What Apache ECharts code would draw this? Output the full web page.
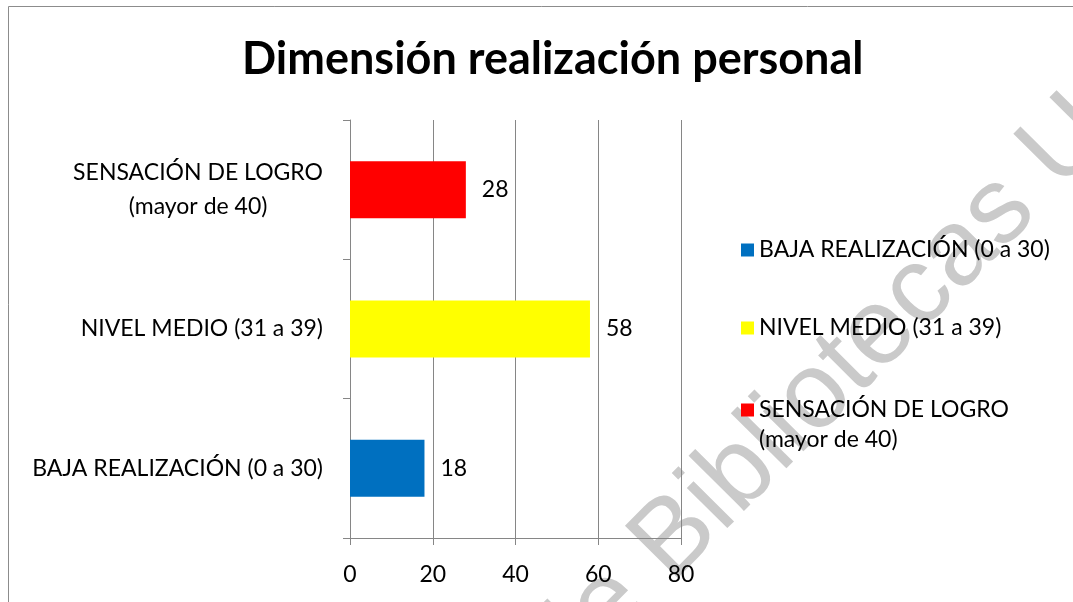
<!DOCTYPE html>
<html>
<head>
<meta charset="utf-8">
<title>Dimensión realización personal</title>
<script src="https://cdn.jsdelivr.net/npm/echarts@6/dist/echarts.min.js"></script>
<style>
  html, body { margin: 0; padding: 0; background: #fff; }
  #chart { width: 1073px; height: 602px; }
</style>
</head>
<body>
<div id="chart"></div>
<script>
// datos del gráfico
var categories = ['BAJA REALIZACIÓN (0 a 30)', 'NIVEL MEDIO (31 a 39)', 'SENSACIÓN DE LOGRO\n(mayor de 40)'];
var values = [18, 58, 28];
var barColors = ['#0070C0', '#FFFF00', '#FF0000'];
var xMin = 0;
var xMax = 80;
var xStep = 20;

var FONT = 'Lato';

var chart = echarts.init(document.getElementById('chart'));

// una serie por categoría (apiladas) para que la leyenda muestre cada nivel
var series = categories.map(function (name, i) {
    return {
        name: name,
        type: 'bar',
        stack: 'total',
        barWidth: 57,
        itemStyle: { color: barColors[i] },
        label: {
            show: true,
            position: 'right',
            distance: 16,
            color: '#000',
            fontFamily: FONT,
            fontSize: 23
        },
        data: categories.map(function (c, j) { return j === i ? values[i] : '-'; })
    };
});

var legendTops = [235, 313, 395];
var legends = categories.map(function (name, i) {
    var twoLines = name.indexOf('\n') >= 0;
    return {
        left: 741,
        top: legendTops[i],
        padding: 0,
        orient: 'vertical',
        itemWidth: 13,
        itemHeight: twoLines ? 60 : 13,
        icon: twoLines
            ? 'path://M0,8.5h13v13h-13zM0,0h0.01v0.01h-0.01zM0,59.99h0.01v0.01h-0.01z'
            : 'rect',
        textStyle: {
            color: '#000',
            fontFamily: FONT,
            fontSize: 23,
            lineHeight: 30
        },
        data: [name]
    };
});

var option = {
    backgroundColor: '#fff',
    animation: false,
    title: {
        text: 'Dimensión realización personal',
        left: 237,
        top: 32,
        textStyle: {
            fontFamily: FONT,
            fontWeight: 'bold',
            fontSize: 45,
            color: '#000'
        }
    },
    legend: legends,
    grid: {
        left: 350,
        right: 392,
        top: 120,
        bottom: 64
    },
    xAxis: {
        type: 'value',
        min: xMin,
        max: xMax,
        interval: xStep,
        axisLine: { show: true, lineStyle: { color: '#868686', width: 1 } },
        axisTick: { show: true, length: 7, lineStyle: { color: '#868686' } },
        splitLine: { show: true, lineStyle: { color: '#868686', width: 1 } },
        axisLabel: {
            color: '#000',
            fontFamily: FONT,
            fontSize: 23,
            margin: 25
        }
    },
    yAxis: {
        type: 'category',
        data: categories,
        axisLine: { show: true, lineStyle: { color: '#868686', width: 1 } },
        axisTick: { show: true, length: 7, lineStyle: { color: '#868686' } },
        axisLabel: {
            margin: 27,
            color: '#000',
            fontFamily: FONT,
            fontSize: 23,
            formatter: function (v) {
                return v.split('\n').map(function (s) { return '{c|' + s + '}'; }).join('\n');
            },
            rich: {
                c: { align: 'center', color: '#000', fontFamily: FONT, fontSize: 23, lineHeight: 34 }
            }
        }
    },
    graphic: [
        {
            type: 'rect',
            z: -20,
            silent: true,
            shape: { x: 8.5, y: 6.5, width: 1200, height: 800 },
            style: { fill: 'none', stroke: '#8c8c8c', lineWidth: 1 }
        },
        {
            type: 'text',
            z: -10,
            silent: true,
            x: 583,
            y: 708,
            rotation: 0.79,
            style: {
                text: 'de Bibliotecas U',
                fill: '#cacaca',
                font: '108px "Liberation Sans"',
                align: 'left',
                verticalAlign: 'bottom'
            }
        }
    ],
    series: series
};

chart.setOption(option);
</script>
</body>
</html>
